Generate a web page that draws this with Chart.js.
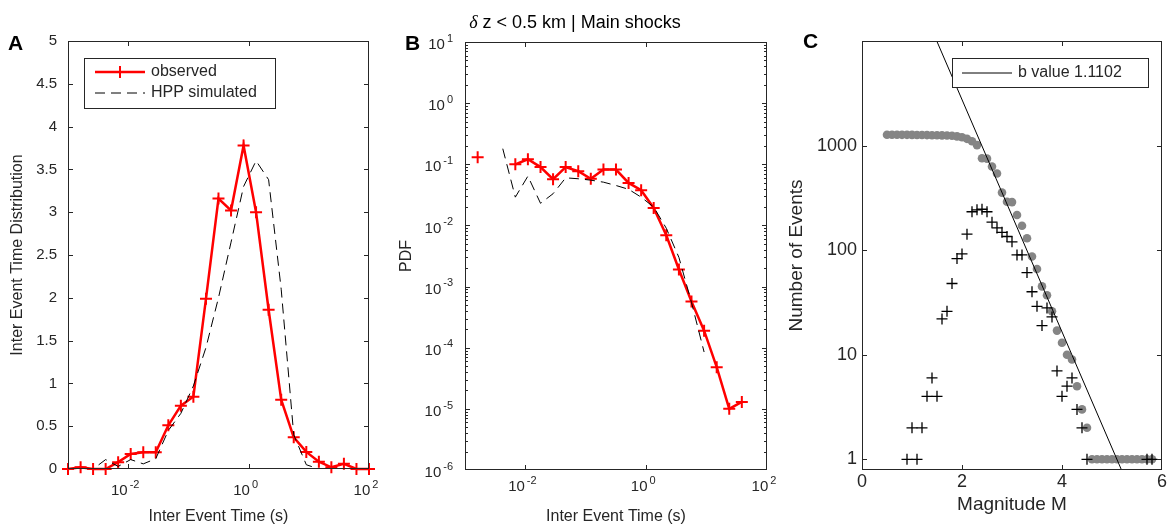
<!DOCTYPE html>
<html>
<head>
<meta charset="utf-8">
<title>Inter event times and magnitudes</title>
<script src="https://cdn.jsdelivr.net/npm/chart.js@4.4.1/dist/chart.umd.min.js"></script>
<style>
  body { margin: 0; background: #fff; }
  #fig { position: relative; width: 1168px; height: 530px; }
  #fig canvas { position: absolute; left: 0; top: 0; }
</style>
</head>
<body>
<div id="fig">
  <canvas id="panelA" width="1168" height="530"></canvas>
  <canvas id="panelB" width="1168" height="530"></canvas>
  <canvas id="panelC" width="1168" height="530"></canvas>
</div>
<script>
// values
const timeBins = [0.001, 0.00162, 0.00261, 0.00422, 0.00681, 0.0110, 0.0178, 0.0287, 0.0464, 0.0750,
  0.121, 0.196, 0.316, 0.511, 0.825, 1.33, 2.15, 3.48, 5.62, 9.09, 14.7, 23.7, 38.3, 61.9, 100];

// panel A
const distObserved = [0, 0.02, 0, 0, 0.08, 0.175, 0.195, 0.195, 0.51, 0.74, 0.845, 1.99, 3.16, 3.02,
  3.78, 3.0, 1.86, 0.81, 0.37, 0.2, 0.085, 0.02, 0.06, 0, 0];
const distSimulated = [0, 0, 0, 0.11, 0.03, 0.11, 0.06, 0.12, 0.45, 0.65, 0.97, 1.42, 2.0, 2.65,
  3.3, 3.6, 3.38, 2.1, 0.4, 0.05, 0, 0, 0, 0, 0];

// panel B
const pdfObserved = [null, 0.13, null, null, 0.1, 0.121, 0.09, 0.057, 0.09, 0.077, 0.058, 0.082, 0.082,
  0.0496, 0.0376, 0.0193, 0.0069, 0.0019, 0.00057, 0.00019, 4.8e-5, 1.0e-5, 1.3e-5, null, null];
const pdfSimulated = [null, null, null, 0.18, 0.029, 0.064, 0.023, 0.033, 0.06, 0.058, 0.055, 0.051, 0.045,
  0.039, 0.029, 0.02, 0.009, 0.003, 0.00055, 0.000085, null, null, null, null, null];

const timeTicks = [0.01, 1, 100];
const pdfTicks = [1e-6, 1e-5, 1e-4, 1e-3, 1e-2, 1e-1, 1, 10];

// panel C
const cumMags = [0.5, 0.6, 0.7, 0.8, 0.9, 1.0, 1.1, 1.2, 1.3, 1.4, 1.5, 1.6, 1.7, 1.8, 1.9, 2.0, 2.1, 2.2,
  2.3, 2.4, 2.5, 2.6, 2.7, 2.8, 2.9, 3.0, 3.1, 3.2, 3.3, 3.4, 3.5, 3.6, 3.7, 3.8, 3.9, 4.0, 4.1, 4.2, 4.3,
  4.4, 4.5, 4.6, 4.7, 4.8, 4.9, 5.0, 5.1, 5.2, 5.3, 5.4, 5.5, 5.6, 5.7, 5.8];
const cumCounts = [1268, 1268, 1268, 1267, 1267, 1266, 1264, 1262, 1260, 1257, 1254, 1252, 1248, 1240,
  1225, 1200, 1160, 1100, 1010, 757, 750, 630, 540, 355, 290, 288, 217, 171, 130, 87, 66, 45, 37, 26,
  17, 13, 10, 9, 5, 3, 2, 1, 1, 1, 1, 1, 1, 1, 1, 1, 1, 1, 1, 1];
const binMags = [0.9, 1.0, 1.1, 1.2, 1.3, 1.4, 1.5, 1.6, 1.7, 1.8, 1.9, 2.0, 2.1, 2.2, 2.3, 2.4, 2.5, 2.6,
  2.7, 2.8, 2.9, 3.0, 3.1, 3.2, 3.3, 3.4, 3.5, 3.6, 3.7, 3.8, 3.9, 4.0, 4.1, 4.2, 4.3, 4.4, 4.5, 5.7, 5.8];
const binCounts = [1, 2, 1, 2, 4, 6, 4, 22, 26, 48, 83, 92, 142, 233, 243, 246, 233, 185, 163, 148, 135,
  120, 90, 90, 61, 40, 29, 19, 28, 23, 7, 4, 5, 6, 3, 2, 1, 1, 1];
const bValue = 1.1102;
const aValue = 5.66;
const fitMags = [1.3, 5.5];
const countTicks = [1, 10, 100, 1000];

const FONT = '"Liberation Sans", Arial, Helvetica, sans-serif';
const INK = '#262626';
const RED = '#ff0000';

Chart.defaults.font.family = FONT;
Chart.defaults.color = INK;

function drawPow(ctx, x, y, v, size, align) {
  const base = '10';
  const ex = String(Math.round(Math.log10(v)));
  const small = Math.round(size * 0.7);
  ctx.font = size + 'px ' + FONT;
  const wb = ctx.measureText(base).width;
  ctx.font = small + 'px ' + FONT;
  const we = ctx.measureText(ex).width;
  const gap = 2;
  const total = wb + gap + we;
  const x0 = align === 'right' ? x - total : x - total / 2;
  ctx.textAlign = 'left';
  ctx.textBaseline = 'middle';
  ctx.fillStyle = INK;
  ctx.font = size + 'px ' + FONT;
  ctx.fillText(base, x0, y);
  ctx.font = small + 'px ' + FONT;
  ctx.fillText(ex, x0 + wb + gap, y - size * 0.42);
}

function drawSample(ctx, ds, x0, x1, y) {
  ctx.save();
  ctx.strokeStyle = ds.borderColor;
  ctx.lineWidth = ds.borderWidth;
  ctx.setLineDash(ds.borderDash || []);
  ctx.beginPath();
  ctx.moveTo(x0, y);
  ctx.lineTo(x1, y);
  ctx.stroke();
  if (ds.pointRadius > 0 && ds.pointStyle === 'cross') {
    const r = ds.pointRadius, xm = (x0 + x1) / 2;
    ctx.setLineDash([]);
    ctx.lineWidth = ds.pointBorderWidth;
    ctx.beginPath();
    ctx.moveTo(xm - r, y); ctx.lineTo(xm + r, y);
    ctx.moveTo(xm, y - r); ctx.lineTo(xm, y + r);
    ctx.stroke();
  }
  ctx.restore();
}

// box, inward ticks, exponent labels, legend, panel letter
const matlabAxes = {
  id: 'matlabAxes',
  afterDraw(chart, args, o) {
    const ctx = chart.ctx;
    const a = chart.chartArea;
    const xs = chart.scales.x, ys = chart.scales.y;
    ctx.save();
    ctx.strokeStyle = INK;
    ctx.lineWidth = 1;
    ctx.strokeRect(a.left + 0.5, a.top + 0.5, a.right - a.left - 1, a.bottom - a.top - 1);
    const L = 5;
    ctx.beginPath();
    xs.ticks.forEach(t => {
      const p = Math.round(xs.getPixelForValue(t.value)) + 0.5;
      if (p <= a.left + 2 || p >= a.right - 2) return;
      ctx.moveTo(p, a.bottom); ctx.lineTo(p, a.bottom - L);
      ctx.moveTo(p, a.top); ctx.lineTo(p, a.top + L);
    });
    ys.ticks.forEach(t => {
      const p = Math.round(ys.getPixelForValue(t.value)) + 0.5;
      if (p <= a.top + 2 || p >= a.bottom - 2) return;
      ctx.moveTo(a.left, p); ctx.lineTo(a.left + L, p);
      ctx.moveTo(a.right, p); ctx.lineTo(a.right - L, p);
    });
    if (o.minorY) {
      ys.ticks.forEach(t => {
        for (let m = 2; m <= 9; m++) {
          const v = t.value * m;
          if (v >= ys.max) continue;
          const p = Math.round(ys.getPixelForValue(v)) + 0.5;
          ctx.moveTo(a.left, p); ctx.lineTo(a.left + 3, p);
          ctx.moveTo(a.right, p); ctx.lineTo(a.right - 3, p);
        }
      });
    }
    ctx.stroke();

    if (o.powX) xs.ticks.forEach(t => drawPow(ctx, xs.getPixelForValue(t.value) - 3, o.powX, t.value, 15, 'center'));
    if (o.powY) ys.ticks.forEach(t => drawPow(ctx, a.left - 12, ys.getPixelForValue(t.value) + 3, t.value, 15, 'right'));

    if (o.legend) {
      const lg = o.legend;
      ctx.fillStyle = '#fff';
      ctx.fillRect(lg.box[0], lg.box[1], lg.box[2], lg.box[3]);
      ctx.strokeStyle = INK;
      ctx.lineWidth = 1;
      ctx.strokeRect(lg.box[0] + 0.5, lg.box[1] + 0.5, lg.box[2], lg.box[3]);
      lg.rows.forEach(r => {
        const ds = chart.data.datasets[r.index];
        drawSample(ctx, ds, lg.x0, lg.x1, r.y);
        ctx.fillStyle = INK;
        ctx.font = '16px ' + FONT;
        ctx.textAlign = 'left';
        ctx.textBaseline = 'middle';
        ctx.fillText(ds.label, lg.x1 + 6, r.y);
      });
    }

    if (o.letter) {
      ctx.fillStyle = '#000';
      ctx.font = 'bold 21px ' + FONT;
      ctx.textAlign = 'left';
      ctx.textBaseline = 'middle';
      ctx.fillText(o.letter.text, o.letter.x, o.letter.y);
    }

    if (o.title) {
      const t = o.title;
      const greek = 'italic 18px "Liberation Serif", "DejaVu Serif", serif';
      const rest = '18px ' + FONT;
      ctx.font = greek;
      const w1 = ctx.measureText(t.greek).width;
      ctx.font = rest;
      const w2 = ctx.measureText(t.text).width;
      let x = t.x - (w1 + w2) / 2;
      ctx.fillStyle = '#000';
      ctx.textAlign = 'left';
      ctx.textBaseline = 'middle';
      ctx.font = greek;
      ctx.fillText(t.greek, x, t.y);
      ctx.font = rest;
      ctx.fillText(t.text, x + w1, t.y);
    }
    ctx.restore();
  }
};

function axisTitle(text, size, pad) {
  return { display: true, text: text, color: INK, font: { family: FONT, size: size }, padding: pad };
}
const noGrid = { display: false, drawTicks: false };
const noBorder = { display: false };
const quiet = { legend: { display: false }, tooltip: { enabled: false } };

// panel A
new Chart(document.getElementById('panelA'), {
  type: 'scatter',
  data: {
    datasets: [
      { label: 'observed', data: timeBins.map((t, i) => ({ x: t, y: distObserved[i] })),
        showLine: true, borderColor: RED, borderWidth: 2.5, pointStyle: 'cross', pointRadius: 6,
        pointBorderColor: RED, pointBorderWidth: 2, order: 1, clip: 10 },
      { label: 'HPP simulated', data: timeBins.map((t, i) => ({ x: t, y: distSimulated[i] })),
        showLine: true, borderColor: '#000', borderWidth: 1, borderDash: [10, 6], pointRadius: 0, order: 0 }
    ]
  },
  options: {
    responsive: false, animation: false, events: [],
    layout: { autoPadding: false, padding: { left: 0, right: 1168 - 369, top: 41, bottom: 0 } },
    scales: {
      x: {
        type: 'logarithmic', min: 1e-3, max: 1e2,
        afterBuildTicks: s => { s.ticks = timeTicks.map(v => ({ value: v })); },
        ticks: { display: false }, grid: noGrid, border: noBorder,
        title: axisTitle('Inter Event Time (s)', 16, { top: 0, bottom: 3.7 }),
        afterFit: s => { s.height = 530 - 469; }
      },
      y: {
        type: 'linear', min: 0, max: 5,
        ticks: { stepSize: 0.5, font: { size: 15 }, color: INK, padding: 11,
          callback: v => String(Math.round(v * 10) / 10) },
        grid: noGrid, border: noBorder,
        title: axisTitle('Inter Event Time Distribution', 16, { top: 8.4, bottom: 0 }),
        afterFit: s => { s.width = 68; }
      }
    },
    plugins: Object.assign({}, quiet, {
      matlabAxes: {
        powX: 491,
        letter: { text: 'A', x: 8, y: 44 },
        legend: { box: [84, 58, 191, 50], x0: 95, x1: 145, rows: [{ index: 0, y: 72 }, { index: 1, y: 93 }] }
      }
    })
  },
  plugins: [matlabAxes]
});

// panel B
new Chart(document.getElementById('panelB'), {
  type: 'scatter',
  data: {
    datasets: [
      { label: 'observed', data: timeBins.map((t, i) => ({ x: t, y: pdfObserved[i] })),
        showLine: true, borderColor: RED, borderWidth: 2.5, pointStyle: 'cross', pointRadius: 6,
        pointBorderColor: RED, pointBorderWidth: 2, order: 1, clip: 10 },
      { label: 'HPP simulated', data: timeBins.map((t, i) => ({ x: t, y: pdfSimulated[i] })),
        showLine: true, borderColor: '#000', borderWidth: 1, borderDash: [10, 6], pointRadius: 0, order: 0 }
    ]
  },
  options: {
    responsive: false, animation: false, events: [],
    layout: { autoPadding: false, padding: { left: 390, right: 1168 - 767, top: 42, bottom: 0 } },
    scales: {
      x: {
        type: 'logarithmic', min: 1e-3, max: 1e2,
        afterBuildTicks: s => { s.ticks = timeTicks.map(v => ({ value: v })); },
        ticks: { display: false }, grid: noGrid, border: noBorder,
        title: axisTitle('Inter Event Time (s)', 16, { top: 0, bottom: 3.7 }),
        afterFit: s => { s.height = 530 - 470; }
      },
      y: {
        type: 'logarithmic', min: 1e-6, max: 10,
        afterBuildTicks: s => { s.ticks = pdfTicks.map(v => ({ value: v })); },
        ticks: { display: false }, grid: noGrid, border: noBorder,
        title: axisTitle('PDF', 16, { top: 7.4, bottom: 0 }),
        afterFit: s => { s.width = 465 - 390; }
      }
    },
    plugins: Object.assign({}, quiet, {
      matlabAxes: {
        powX: 487, powY: true, minorY: true,
        letter: { text: 'B', x: 405, y: 44 },
        title: { greek: '\u03B4', text: ' z < 0.5 km | Main shocks', x: 575, y: 23 }
      }
    })
  },
  plugins: [matlabAxes]
});

// panel C
new Chart(document.getElementById('panelC'), {
  type: 'scatter',
  data: {
    datasets: [
      { label: 'b value ' + bValue, data: fitMags.map(m => ({ x: m, y: Math.pow(10, aValue - bValue * m) })),
        showLine: true, borderColor: '#000', borderWidth: 1, pointRadius: 0, order: 0 },
      { label: 'events per bin', data: binMags.map((m, i) => ({ x: m, y: binCounts[i] })),
        pointStyle: 'cross', pointRadius: 5.5, borderColor: '#000', pointBorderColor: '#000',
        pointBorderWidth: 1.3, order: 1, clip: 8 },
      { label: 'cumulative', data: cumMags.map((m, i) => ({ x: m, y: cumCounts[i] })),
        pointStyle: 'circle', pointRadius: 4.3, backgroundColor: '#858585', pointBackgroundColor: '#858585',
        pointBorderWidth: 0, borderWidth: 0, order: 2, clip: 8 }
    ]
  },
  options: {
    responsive: false, animation: false, events: [],
    layout: { autoPadding: false, padding: { left: 780, right: 1168 - 1164, top: 41, bottom: 0 } },
    scales: {
      x: {
        type: 'linear', min: 0, max: 6,
        ticks: { stepSize: 2, font: { size: 18 }, color: INK, padding: 1, maxRotation: 0 },
        grid: noGrid, border: noBorder,
        title: axisTitle('Magnitude M', 19, { top: 0, bottom: 13.6 }),
        afterFit: s => { s.height = 530 - 470; }
      },
      y: {
        type: 'logarithmic', min: 0.79, max: 10000,
        afterBuildTicks: s => { s.ticks = countTicks.map(v => ({ value: v })); },
        ticks: { font: { size: 18 }, color: INK, padding: 5, callback: v => String(v) },
        grid: noGrid, border: noBorder,
        title: axisTitle('Number of Events', 19, { top: 5.6, bottom: 0 }),
        afterFit: s => { s.width = 862 - 780; }
      }
    },
    plugins: Object.assign({}, quiet, {
      matlabAxes: {
        letter: { text: 'C', x: 803, y: 42 },
        legend: { box: [952, 58, 196, 29], x0: 962, x1: 1012, rows: [{ index: 0, y: 73 }] }
      }
    })
  },
  plugins: [matlabAxes]
});
</script>
</body>
</html>
